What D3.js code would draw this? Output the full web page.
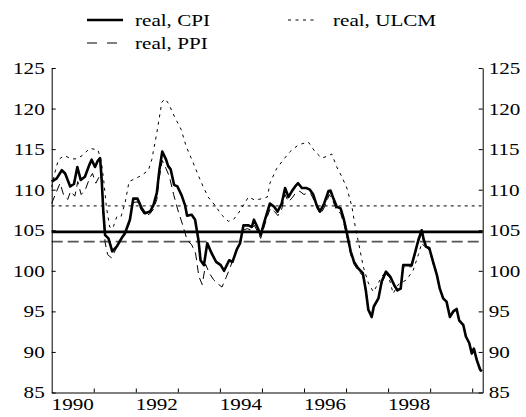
<!DOCTYPE html>
<html>
<head>
<meta charset="utf-8">
<script src="https://cdn.jsdelivr.net/npm/d3@7"></script>
<style>
  body { margin: 0; background: #fff; }
</style>
</head>
<body>
<main></main>
<script>
// decimal year / index values
const cpiT = [1990.00,1990.12,1990.24,1990.32,1990.44,1990.53,1990.61,1990.69,1990.79,1990.89,1990.95,1991.03,1991.09,1991.15,1991.19,1991.23,1991.27,1991.35,1991.44,1991.55,1991.66,1991.74,1991.86,1991.94,1992.04,1992.14,1992.22,1992.34,1992.42,1992.50,1992.56,1992.63,1992.72,1992.77,1992.83,1992.91,1992.99,1993.09,1993.17,1993.22,1993.33,1993.41,1993.49,1993.54,1993.62,1993.70,1993.80,1993.91,1994.02,1994.10,1994.22,1994.30,1994.40,1994.48,1994.56,1994.68,1994.76,1994.81,1994.89,1994.97,1995.05,1995.13,1995.19,1995.29,1995.37,1995.47,1995.55,1995.63,1995.71,1995.79,1995.86,1995.95,1996.06,1996.14,1996.22,1996.30,1996.38,1996.48,1996.58,1996.63,1996.70,1996.78,1996.87,1996.95,1997.03,1997.11,1997.19,1997.29,1997.40,1997.47,1997.53,1997.61,1997.66,1997.77,1997.85,1997.95,1998.05,1998.14,1998.22,1998.30,1998.36,1998.46,1998.56,1998.64,1998.72,1998.80,1998.85,1998.90,1998.98,1999.07,1999.16,1999.23,1999.31,1999.39,1999.47,1999.55,1999.63,1999.69,1999.79,1999.85,1999.93,1999.99,2000.04,2000.11,2000.19,2000.23];
const cpiV = [111.0,111.4,112.4,112.0,110.4,110.7,112.8,111.2,111.6,113.0,113.7,112.8,113.5,113.9,111.2,107.1,104.4,104.0,102.4,103.0,104.0,104.6,106.3,108.9,108.9,107.7,107.1,107.3,108.1,109.6,112.4,114.7,113.7,112.9,112.5,110.6,110.4,109.3,108.1,106.8,106.9,106.3,103.8,101.3,100.7,103.4,102.2,101.1,100.7,100.0,101.3,101.1,102.6,103.4,105.6,105.6,105.4,106.3,105.4,104.4,105.9,107.3,108.3,107.9,107.3,108.3,110.2,109.1,109.8,110.4,110.8,110.2,110.2,110.0,109.4,108.1,107.3,108.3,109.8,109.9,108.9,107.9,107.7,106.3,104.4,102.4,101.1,100.3,99.7,97.6,95.2,94.3,95.6,96.6,98.7,99.9,99.3,98.3,97.6,97.8,100.7,100.7,100.7,102.2,103.8,105.0,103.8,103.0,102.8,101.1,99.5,97.8,96.6,96.2,94.3,95.0,95.3,93.9,93.3,91.9,91.1,89.8,90.4,89.0,87.8,87.6];

const ppiT = [1990.00,1990.10,1990.20,1990.28,1990.38,1990.45,1990.55,1990.62,1990.70,1990.80,1990.90,1990.97,1991.05,1991.12,1991.17,1991.22,1991.27,1991.33,1991.42,1991.52,1991.62,1991.72,1991.84,1991.93,1992.03,1992.12,1992.22,1992.33,1992.42,1992.50,1992.56,1992.63,1992.72,1992.80,1992.90,1993.00,1993.10,1993.22,1993.33,1993.42,1993.50,1993.58,1993.66,1993.75,1993.85,1993.95,1994.05,1994.15,1994.25,1994.35,1994.45,1994.55,1994.65,1994.75,1994.82,1994.90,1994.97,1995.05,1995.13,1995.20,1995.30,1995.38,1995.47,1995.55,1995.63,1995.72,1995.80,1995.90,1996.00,1996.08,1996.16,1996.25,1996.32,1996.40,1996.50,1996.60,1996.68,1996.78,1996.87,1996.95,1997.03,1997.11,1997.19,1997.29,1997.40,1997.47,1997.53,1997.61,1997.66,1997.77,1997.85,1997.95,1998.05,1998.14,1998.22,1998.30,1998.36,1998.46,1998.56,1998.64,1998.72,1998.80,1998.85,1998.90,1998.98,1999.07,1999.16,1999.23,1999.31,1999.39,1999.47,1999.55,1999.63,1999.69,1999.79,1999.85,1999.93,1999.99,2000.04,2000.11,2000.19,2000.23];
const ppiV = [108.3,109.6,110.8,109.4,108.8,109.8,109.2,111.0,109.4,110.0,111.4,112.0,110.8,111.5,112.0,108.0,103.5,102.0,101.6,102.6,103.8,104.4,105.8,108.4,108.5,107.6,106.8,107.0,107.6,108.8,111.5,113.6,112.6,111.6,109.4,107.5,105.9,103.8,103.2,102.2,99.3,98.3,100.8,99.7,98.9,98.4,98.0,99.2,100.5,102.0,103.2,105.0,105.2,105.0,105.6,104.8,104.0,105.4,106.7,107.7,107.3,106.8,107.6,109.4,108.5,109.0,109.6,109.8,109.4,109.6,109.5,108.6,107.6,107.0,108.0,109.4,108.7,107.4,107.1,105.8,104.0,102.0,100.8,100.0,99.4,97.4,95.4,94.5,95.5,96.8,98.5,99.7,99.1,98.1,97.5,97.7,100.4,100.5,100.5,102.0,103.6,104.7,103.6,102.9,102.6,101.0,99.4,97.7,96.5,96.1,94.4,94.9,95.2,93.8,93.2,91.8,91.0,89.9,90.3,89.0,87.9,87.7];

const ulcmT = [1990.00,1990.08,1990.16,1990.30,1990.47,1990.60,1990.75,1990.90,1991.10,1991.18,1991.24,1991.30,1991.38,1991.45,1991.55,1991.65,1991.75,1991.84,1992.00,1992.15,1992.30,1992.38,1992.50,1992.62,1992.70,1992.78,1992.92,1993.08,1993.20,1993.35,1993.50,1993.60,1993.72,1993.88,1994.04,1994.20,1994.32,1994.44,1994.56,1994.68,1994.84,1995.00,1995.13,1995.19,1995.35,1995.51,1995.67,1995.86,1996.10,1996.26,1996.42,1996.54,1996.66,1996.78,1996.90,1997.02,1997.14,1997.22,1997.30,1997.41,1997.53,1997.65,1997.77,1997.85,1997.95,1998.05,1998.12,1998.24,1998.44,1998.60,1998.72,1998.80,1998.90,1998.98,1999.07,1999.16,1999.23,1999.31,1999.39,1999.47,1999.55,1999.63,1999.69,1999.79,1999.85,1999.93,1999.99,2000.04,2000.11,2000.19,2000.23];
const ulcmV = [110.3,112.2,113.7,114.2,113.8,113.8,114.3,115.1,114.9,113.5,111.0,107.9,105.4,105.2,106.7,106.7,108.5,111.0,111.4,111.8,112.4,113.7,117.0,120.8,121.2,120.6,119.0,117.4,115.3,113.5,111.6,110.4,109.1,108.1,106.9,106.1,106.3,107.1,108.1,109.1,108.7,108.9,109.1,110.8,112.6,113.7,114.7,115.5,115.9,114.7,113.9,114.1,114.4,112.8,111.6,110.2,107.9,105.4,103.4,100.5,98.5,97.4,98.5,99.3,99.9,98.6,97.2,98.3,98.9,100.1,102.0,103.4,102.8,102.6,100.9,99.4,97.8,96.5,96.0,94.4,94.8,95.2,93.8,93.2,92.0,91.0,90.0,90.6,89.2,88.0,87.7];

const means = { cpi: 104.8, ppi: 103.6, ulcm: 108.0 };

const yTicks = [85, 90, 95, 100, 105, 110, 115, 120, 125];
const xTickYears = [1991, 1992, 1993, 1994, 1995, 1996, 1997, 1998, 1999, 2000];
const xLabelYears = [1990, 1992, 1994, 1996, 1998];

const legendItems = [
  { label: "real, CPI", key: "cpi", col: 0, row: 0 },
  { label: "real, ULCM", key: "ulcm", col: 1, row: 0 },
  { label: "real, PPI", key: "ppi", col: 0, row: 1 }
];

const svgSize = { width: 526, height: 417 };
const plot = { left: 51.7, right: 482.7, top: 68, bottom: 392.5 };
const stretch = 1.32;   // text in the picture is wider than it is tall
const fontStyle = "font-family:'Liberation Serif','Times New Roman',Times,serif;font-size:16px;fill:#000";

const styles = {
  cpi:  { width: 2.6, dash: null, color: "#000" },
  ppi:  { width: 1, dash: "8,5", color: "#000" },
  ulcm: { width: 1, dash: "3,4.5", color: "#000" }
};
const meanStyles = {
  cpi:  { width: 2.6, dash: null, color: "#000" },
  ppi:  { width: 1.8, dash: "11,5", color: "#555" },
  ulcm: { width: 1, dash: "3,4", color: "#000" }
};

const svg = d3.select("main")
              .append("svg")
              .attr("width", svgSize.width)
              .attr("height", svgSize.height);

const xScale = d3.scaleLinear()
                 .domain([1990, 2000.25])
                 .range([plot.left, plot.right]);
const yScale = d3.scaleLinear()
                 .domain([85, 125])
                 .range([plot.bottom, plot.top]);

//mean lines
Object.keys(means).forEach(k => {
  const s = meanStyles[k];
  svg.append("line")
     .attr("x1", xScale(1990)).attr("x2", xScale(2000.25))
     .attr("y1", yScale(means[k])).attr("y2", yScale(means[k]))
     .attr("stroke", s.color)
     .attr("stroke-width", s.width)
     .attr("stroke-dasharray", s.dash);
});

//series
const series = [
  { key: "ulcm", t: ulcmT, v: ulcmV },
  { key: "ppi", t: ppiT, v: ppiV },
  { key: "cpi", t: cpiT, v: cpiV }
];
const line = d3.line()
               .x(d => xScale(d[0]))
               .y(d => yScale(d[1]));
series.forEach(s => {
  const st = styles[s.key];
  svg.append("path")
     .datum(s.t.map((t, i) => [t, s.v[i]]))
     .attr("d", line)
     .attr("fill", "none")
     .attr("stroke", st.color)
     .attr("stroke-width", st.width)
     .attr("stroke-linejoin", "round")
     .attr("stroke-dasharray", st.dash);
});

//axes, ticks point inward
const leftAxis = svg.append("g")
   .attr("transform", `translate(${plot.left},0)`)
   .call(d3.axisLeft(yScale).tickValues(yTicks).tickSizeInner(-4).tickSizeOuter(0).tickPadding(7));
leftAxis.selectAll("text")
   .attr("x", null)
   .attr("dy", "0.34em")
   .attr("transform", `translate(-7,0) scale(${stretch},1)`);

const rightAxis = svg.append("g")
   .attr("transform", `translate(${plot.right},0)`)
   .call(d3.axisRight(yScale).tickValues(yTicks).tickSizeInner(-4).tickSizeOuter(0).tickPadding(6));
rightAxis.selectAll("text")
   .attr("x", null)
   .attr("dy", "0.34em")
   .attr("transform", `translate(6,0) scale(${stretch},1)`);

svg.append("g")
   .attr("transform", `translate(0,${plot.bottom})`)
   .call(d3.axisBottom(xScale).tickValues(xTickYears).tickSizeInner(-4).tickSizeOuter(0).tickFormat(""));

svg.selectAll("g .domain, g .tick line")
   .attr("stroke", "#000")
   .attr("stroke-width", 1);

//year labels sit in the middle of each year
svg.selectAll(".xlabel")
   .data(xLabelYears)
   .enter()
   .append("text")
   .attr("class", "xlabel")
   .attr("text-anchor", "middle")
   .attr("transform", d => `translate(${xScale(d + 0.5)},410) scale(${stretch},1)`)
   .text(d => d);

//legend
const legendPos = { x0: 87, x1: 288, lineLen: 36, y0: 20, dy: 23, gap: 12 };
legendItems.forEach(it => {
  const st = styles[it.key];
  const x = it.col === 0 ? legendPos.x0 : legendPos.x1;
  const y = legendPos.y0 + it.row * legendPos.dy;
  const len = it.key === "ulcm" ? 30 : legendPos.lineLen;
  svg.append("line")
     .attr("x1", x).attr("x2", x + len)
     .attr("y1", y).attr("y2", y)
     .attr("stroke", st.color)
     .attr("stroke-width", st.width)
     .attr("stroke-dasharray", it.key === "ppi" ? "10,10" : st.dash);
  svg.append("text")
     .attr("transform", `translate(${x + len + legendPos.gap + (it.key === "ulcm" ? 3 : 0)},${y + 5.5}) scale(${stretch},1)`)
     .text(it.label);
});

svg.selectAll("text")
   .attr("font-family", null)
   .attr("font-size", null)
   .attr("style", fontStyle);
</script>
</body>
</html>
